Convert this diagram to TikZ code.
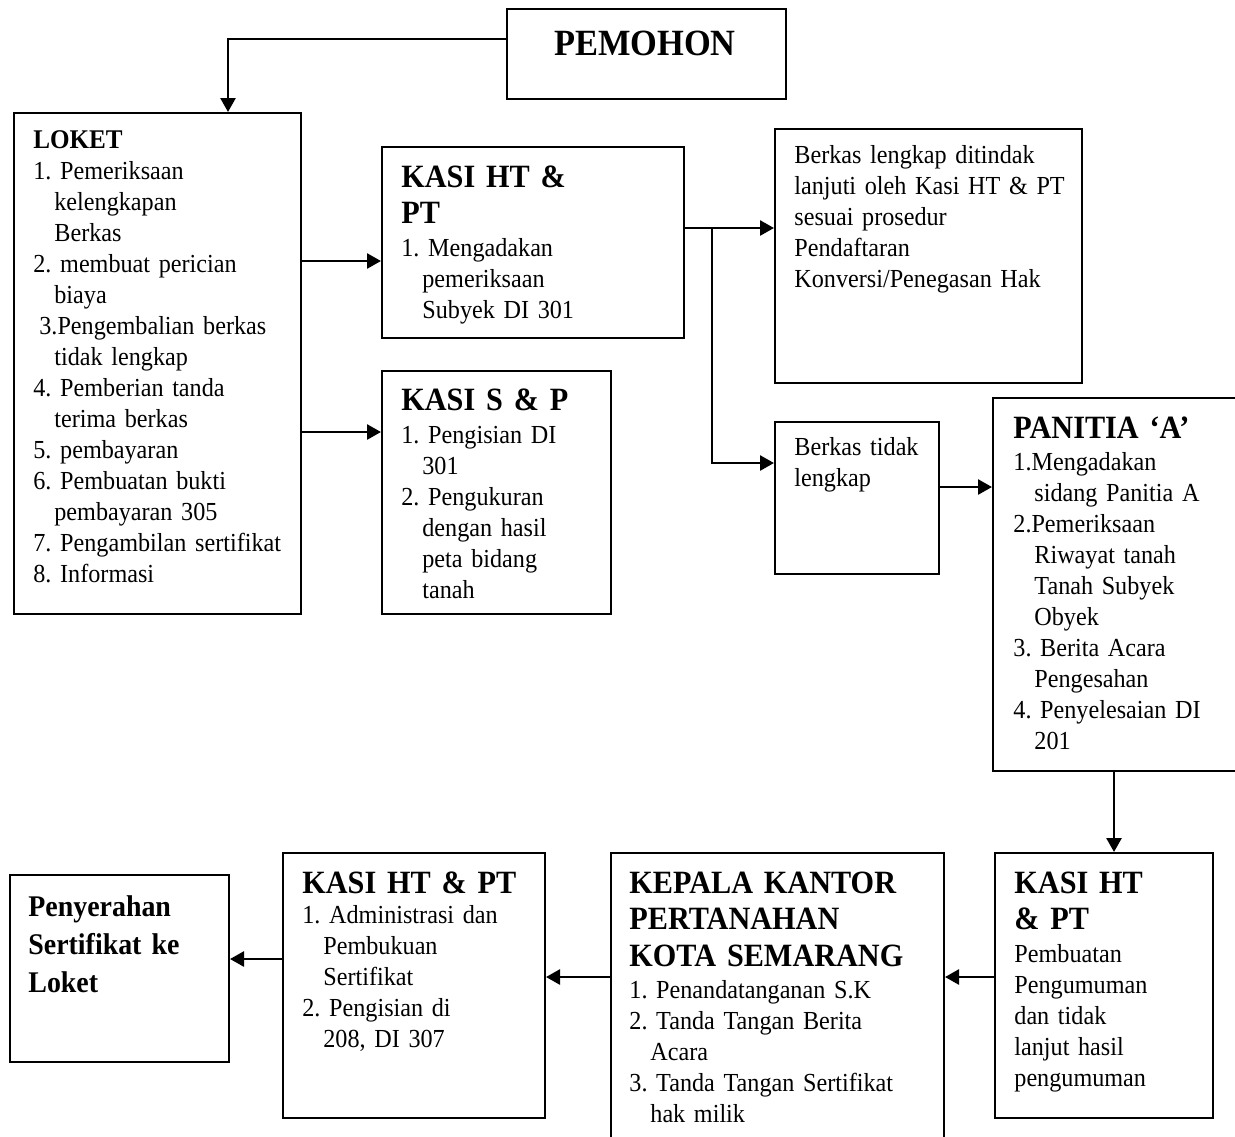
\documentclass[tikz,border=0pt]{standalone}
\usepackage{fontspec}
\setmainfont[FakeStretch=0.93]{Liberation Serif}
\usetikzlibrary{arrows.meta}

\newcommand{\bodyfont}{\frenchspacing\fontsize{13}{15.5}\selectfont\spaceskip=0.19em\relax}
\newcommand{\headfont}{\frenchspacing\fontsize{16.25}{18.25}\selectfont\bfseries\spaceskip=0.19em\relax}
\newcommand{\serahfont}{\frenchspacing\fontsize{15}{19}\selectfont\bfseries\spaceskip=0.19em\relax}
\newcommand{\ind}{\hspace*{10.5pt}}

\begin{document}
\begin{tikzpicture}[x=0.5pt,y=-0.5pt,
  box/.style={draw,line width=1pt,anchor=north west,inner sep=0pt},
  body/.style={anchor=base west,inner sep=0pt,text width=220pt,align=left,font=\bodyfont},
  head/.style={body,font=\headfont},
  arr/.style={line width=1.3pt,-{Triangle[length=7pt,width=7.5pt]}}]
\clip (0,0) rectangle (1235,1136);
% boxes
\node[box,minimum width=139.5pt,minimum height=45pt] (pemohon) at (506,8) {};
\node[box,minimum width=143.5pt,minimum height=250.5pt] (loket) at (13,112) {};
\node[box,minimum width=151pt,minimum height=95.5pt] (kasiht) at (381,146) {};
\node[box,minimum width=114.5pt,minimum height=121.5pt] (kasisp) at (381,370) {};
\node[box,minimum width=153.5pt,minimum height=127pt] (lengkap) at (774,128) {};
\node[box,minimum width=82pt,minimum height=76pt] (tdklengkap) at (774,421) {};
\node[box,minimum width=124pt,minimum height=186.5pt] (panitia) at (992,397) {};
\node[box,minimum width=109pt,minimum height=132.5pt] (kasiht2) at (994,852) {};
\node[box,minimum width=166.5pt,minimum height=146.5pt] (kepala) at (610,852) {};
\node[box,minimum width=131pt,minimum height=132.5pt] (kasiht3) at (282,852) {};
\node[box,minimum width=109.5pt,minimum height=93.5pt] (serah) at (9,874) {};

% texts
\node[anchor=base,inner sep=0pt,font=\fontsize{18.5}{20}\selectfont\bfseries] (pemohon-t) at (645,55) {PEMOHON};

\node[head,font=\fontsize{13.5}{15.5}\selectfont\bfseries] (loket-h) at (33,148) {LOKET};
\node[body] (loket-b) at (33,179) {1. Pemeriksaan\\ \ind kelengkapan\\ \ind Berkas\\
  2. membuat perician\\ \ind biaya\\ \hspace*{3pt}3.Pengembalian berkas\\ \ind tidak lengkap\\
  4. Pemberian tanda\\ \ind terima berkas\\ 5. pembayaran\\ 6. Pembuatan bukti\\
  \ind pembayaran 305\\ 7. Pengambilan sertifikat\\ 8. Informasi};

\node[head] (kasiht-h) at (401,187) {KASI HT \&\\ PT};
\node[body] (kasiht-b) at (401,256) {1. Mengadakan\\ \ind pemeriksaan\\ \ind Subyek DI 301};

\node[head] (kasisp-h) at (401,410) {KASI S \& P};
\node[body] (kasisp-b) at (401,443) {1. Pengisian DI\\ \ind 301\\ 2. Pengukuran\\
  \ind dengan hasil\\ \ind peta bidang\\ \ind tanah};

\node[body] (lengkap-b) at (794,163) {Berkas lengkap ditindak\\ lanjuti oleh Kasi HT \& PT\\
  sesuai prosedur\\ Pendaftaran\\ Konversi/Penegasan Hak};

\node[body] (tdklengkap-b) at (794,455) {Berkas tidak\\ lengkap};

\node[head] (panitia-h) at (1013,438) {PANITIA ‘A’};
\node[body] (panitia-b) at (1013,470) {1.Mengadakan\\ \ind sidang Panitia A\\ 2.Pemeriksaan\\
  \ind Riwayat tanah\\ \ind Tanah Subyek\\ \ind Obyek\\ 3. Berita Acara\\
  \ind Pengesahan\\ 4. Penyelesaian DI\\ \ind 201};

\node[head] (kasiht2-h) at (1014,893) {KASI HT\\ \& PT};
\node[body] (kasiht2-b) at (1014,962) {Pembuatan\\ Pengumuman\\ dan tidak\\ lanjut hasil\\ pengumuman};

\node[head] (kepala-h) at (629,893) {KEPALA KANTOR\\ PERTANAHAN\\ KOTA SEMARANG};
\node[body] (kepala-b) at (629,998) {1. Penandatanganan S.K\\ 2. Tanda Tangan Berita\\ \ind Acara\\
  3. Tanda Tangan Sertifikat\\ \ind hak milik};

\node[head] (kasiht3-h) at (302,893) {KASI HT \& PT};
\node[body] (kasiht3-b) at (302,923) {1. Administrasi dan\\ \ind Pembukuan\\ \ind Sertifikat\\
  2. Pengisian di\\ \ind 208, DI 307};

\node[head,font=\serahfont] (serah-h) at (28,916) {Penyerahan\\ Sertifikat ke\\ Loket};

% connectors
\coordinate (p1) at (228,39);
\draw[arr] (pemohon.west |- p1) -- (p1) -- (loket.north -| p1);
\coordinate (a1) at (0,261);
\draw[arr] (loket.east |- a1) -- (kasiht.west |- a1);
\coordinate (a2) at (0,432);
\draw[arr] (loket.east |- a2) -- (kasisp.west |- a2);
\coordinate (a3) at (0,228);
\draw[arr] (kasiht.east |- a3) -- (lengkap.west |- a3);
\coordinate (split) at (712,228);
\coordinate (a4) at (0,463);
\draw[arr] (split) -- (split |- a4) -- (tdklengkap.west |- a4);
\coordinate (a5) at (0,487);
\draw[arr] (tdklengkap.east |- a5) -- (panitia.west |- a5);
\coordinate (a6) at (1114,0);
\draw[arr] (panitia.south -| a6) -- (kasiht2.north -| a6);
\coordinate (a7) at (0,977);
\draw[arr] (kasiht2.west |- a7) -- (kepala.east |- a7);
\draw[arr] (kepala.west |- a7) -- (kasiht3.east |- a7);
\coordinate (a8) at (0,959);
\draw[arr] (kasiht3.west |- a8) -- (serah.east |- a8);
\end{tikzpicture}
\end{document}
